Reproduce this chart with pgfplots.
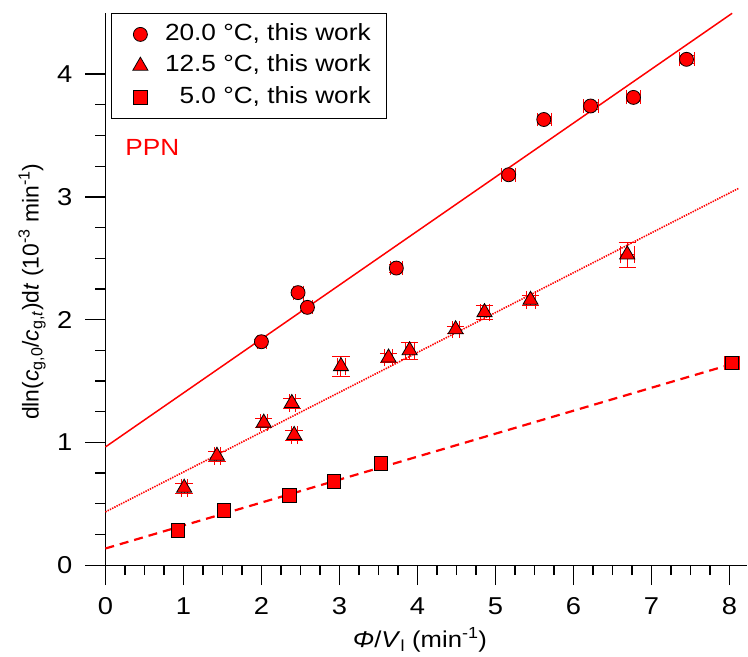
\documentclass[border=0pt]{standalone}
\usepackage{fontspec}
\setmainfont{Liberation Sans}[FakeStretch=1.12]
\newfontfamily\ylabfont{Liberation Sans}
\usepackage{pgfplots}
\pgfplotsset{compat=1.18}
\pgfplotsset{mylegimg/.style={legend image code/.code={\path[draw=none] (0bp,-1bp) rectangle (38bp,1bp); \draw[##1] plot coordinates {(15.3bp,0bp)};}}}
\begin{document}
\begin{tikzpicture}
\begin{axis}[
  name=ax,
  scale only axis,
  width=642.5bp, height=553bp,
  xmin=0, xmax=8.23, ymin=0, ymax=4.5,
  axis x line=bottom, axis y line=left,
  axis line style={-, black, line width=1.3bp},
  xtick={0,1,...,8}, ytick={0,1,2,3,4},
  yticklabels={},
  minor x tick num=3, minor y tick num=3,
  tick align=outside,
  major tick length=20bp, minor tick length=10bp,
  every tick/.style={black, line width=1.3bp},
  /pgf/number format/assume math mode=true,
  tick label style={font=\fontsize{24.5}{29}\selectfont},
  xticklabel style={yshift=-9bp},
  xlabel={\textit{Φ}/\textit{V}\textsubscript{l} (min\textsuperscript{-1})},
  ylabel={\ylabfont dln(\textit{c}\textsubscript{g,0}/\textit{c}\textsubscript{g,\textit{t}})d\textit{t} (10\textsuperscript{-3} min\textsuperscript{-1})},
  label style={font=\fontsize{23}{28}\selectfont},
  xlabel style={at={(axis description cs:0.49,-0.136)}, anchor=center},
  ylabel style={at={(axis description cs:-0.1144,0.495)}, anchor=center},
  legend style={at={(0.0081,1)}, anchor=north west, draw=black, line width=1bp,
    font=\fontsize{23.5}{28}\selectfont, inner xsep=14bp, inner ysep=5.5bp,
    nodes={text height=17bp, text depth=5bp, inner ysep=4.75bp}},
  legend cell align=right,
  error bars/error bar style={red, line width=1bp},
  clip=false,
]
% fitted lines
\addplot[red, line width=1.5bp, forget plot] coordinates {(0,0.963) (8.035,4.495)};
\addplot[red, line width=1.6bp, dash pattern=on 1.4bp off 1.1bp, forget plot] coordinates {(0,0.434) (8.12,3.07)};
\addplot[red, line width=2.2bp, dash pattern=on 9bp off 6bp, forget plot] coordinates {(0,0.136) (8.0,1.632)};

% 20.0 C
\addplot[only marks, mylegimg, mark=*, mark size=7bp, mark options={draw=black, fill=red, line width=0.8bp},
  error bars/.cd, x dir=both, x explicit, y dir=both, y explicit]
  table[x=x, y=y, x error=ex, y error=ey] {
x    y     ex    ey
2.00 1.82  0.06  0.02
2.47 2.22  0.06  0.02
2.59 2.10  0.06  0.02
3.73 2.42  0.08  0.03
5.17 3.18  0.09  0.03
5.62 3.63  0.09  0.03
6.22 3.74  0.10  0.03
6.77 3.81  0.09  0.03
7.45 4.12  0.10  0.03
};
\addlegendentry{20.0 °C, this work}

% 12.5 C
\addplot[only marks, mylegimg, mark=triangle*, mark size=8.7bp, mark options={draw=black, fill=red, line width=0.8bp},
  error bars/.cd, x dir=both, x explicit, y dir=both, y explicit]
  table[x=x, y=y, x error=ex, y error=ey] {
x    y     ex    ey
1.01 0.63  0.04  0.04
1.43 0.89  0.04  0.04
2.03 1.16  0.04  0.04
2.39 1.32  0.04  0.04
2.42 1.06  0.04  0.04
3.02 1.62  0.05  0.08
3.63 1.69  0.05  0.04
3.90 1.75  0.06  0.07
4.49 1.92  0.05  0.03
4.86 2.06  0.06  0.06
5.45 2.16  0.06  0.04
6.69 2.53  0.09  0.10
};
\addlegendentry{12.5 °C, this work}

% 5.0 C
\addplot[only marks, mylegimg, mark=square*, mark size=6.8bp, mark options={draw=black, fill=red, line width=0.8bp},
  error bars/.cd, x dir=both, x explicit, y dir=both, y explicit]
  table[x=x, y=y, x error=ex, y error=ey] {
x    y      ex    ey
0.93 0.285  0.03  0.02
1.52 0.445  0.03  0.02
2.36 0.567  0.04  0.02
2.93 0.683  0.04  0.02
3.53 0.827  0.05  0.02
8.03 1.647  0.10  0.03
};
\addlegendentry{5.0 °C, this work}

\node[text=red, anchor=west, font=\fontsize{23.5}{28}\selectfont] at (axis cs:0.21,3.40) {PPN};
\pgfplotsinvokeforeach{0,1,2,3,4}{
  \node[anchor=east, inner sep=0pt, xshift=-33bp, font=\fontsize{24.5}{29}\selectfont] at (axis cs:0,#1) {#1};
}
\end{axis}
\path[use as bounding box] ([xshift=-105.5bp,yshift=-87.3bp]ax.south west) rectangle ([yshift=12.7bp]ax.north east);
\end{tikzpicture}
\end{document}
